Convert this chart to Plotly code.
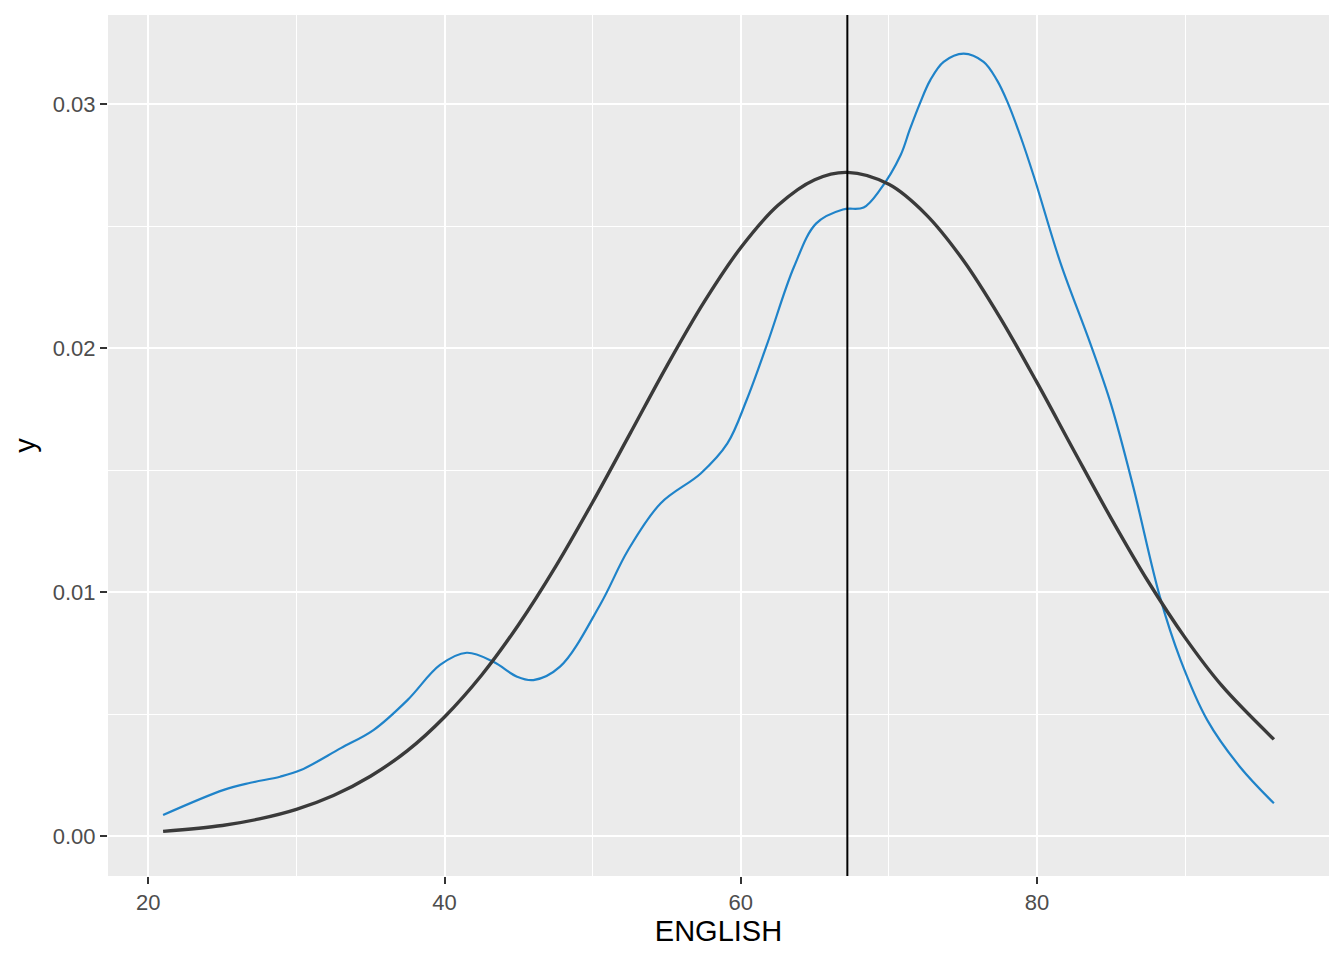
import plotly.graph_objects as go

# Kernel density of ENGLISH scores
density_x = [21.0, 25.1, 26.9, 28.9, 30.3, 33.0, 35.2, 37.5, 39.7, 41.5, 43.3, 44.9, 46.0,
             47.8, 50.5, 52.4, 54.6, 57.3, 59.1, 60.4, 61.8, 63.6, 65.1, 66.9, 68.3, 69.4,
             70.8, 71.4, 72.1, 72.8, 73.7, 75.05, 76.4, 77.3, 78.0, 78.9, 79.8, 81.6, 83.6,
             85.0, 86.5, 88.3, 89.7, 91.5, 93.7, 96.0]
density_y = [0.00086, 0.00189, 0.00218, 0.00243, 0.0027, 0.0036, 0.00434, 0.00557, 0.00701,
             0.00751, 0.00714, 0.00653, 0.00639, 0.00694, 0.00947, 0.01172, 0.01364, 0.01486,
             0.01609, 0.01787, 0.02019, 0.02333, 0.02511, 0.02568, 0.02576, 0.02648, 0.02791,
             0.02893, 0.03003, 0.03098, 0.03173, 0.03207, 0.03173, 0.03098, 0.03010, 0.02866,
             0.02702, 0.02347, 0.02019, 0.01770, 0.01432, 0.00981, 0.00721, 0.00475, 0.00284,
             0.00134]

# Normal reference curve
normal_x = [21.0, 25.0, 27.5, 30.0, 32.5, 35.0, 37.5, 40.0, 42.5, 45.0, 47.5, 50.0, 52.5,
            55.0, 57.5, 60.0, 62.5, 65.0, 67.2, 70.0, 72.5, 75.0, 77.5, 80.0, 82.5, 85.0,
            87.5, 90.0, 92.5, 96.0]
normal_y = [0.00019, 0.00043, 0.00070, 0.00109, 0.00166, 0.00245, 0.00350, 0.00488, 0.00659,
            0.00866, 0.01104, 0.01368, 0.01646, 0.01925, 0.02186, 0.02411, 0.02584, 0.02690,
            0.02720, 0.02671, 0.02548, 0.02362, 0.02126, 0.01859, 0.01579, 0.01303, 0.01044,
            0.00813, 0.00615, 0.00396]

mean_english = 67.2

x_tick_vals = [20, 40, 60, 80]
x_tick_text = ["20", "40", "60", "80"]
y_tick_vals = [0.00, 0.01, 0.02, 0.03]
y_tick_text = ["0.00", "0.01", "0.02", "0.03"]

fig = go.Figure()
fig.add_trace(go.Scatter(x=density_x, y=density_y, mode="lines",
                         line=dict(color="#1F83C9", width=2.2, shape="spline", smoothing=1.0),
                         showlegend=False, hoverinfo="skip"))
fig.add_trace(go.Scatter(x=normal_x, y=normal_y, mode="lines",
                         line=dict(color="#3A3A3A", width=3.4, shape="spline", smoothing=1.0),
                         showlegend=False, hoverinfo="skip"))
fig.add_shape(type="line", xref="x", yref="paper", x0=mean_english, x1=mean_english,
              y0=0, y1=1, line=dict(color="black", width=2))

axis_common = dict(showline=False, zeroline=False, ticks="outside", ticklen=7, tickwidth=2,
                   tickcolor="#333333", gridcolor="white", gridwidth=2,
                   tickfont=dict(family="Liberation Sans, Arial", size=22, color="#4D4D4D"))

fig.update_layout(
    width=1336, height=952,
    margin=dict(l=100, r=15, t=7, b=84),
    paper_bgcolor="white", plot_bgcolor="#EBEBEB",
    font=dict(family="Liberation Sans, Arial"),
    xaxis=dict(range=[17.28, 99.72], tickvals=x_tick_vals, ticktext=x_tick_text,
               title=dict(text="ENGLISH", font=dict(size=29, color="black"), standoff=4),
               minor=dict(tickvals=[30, 50, 70, 90], showgrid=True, gridcolor="white",
                          gridwidth=1, ticks=""),
               **axis_common),
    yaxis=dict(range=[-0.00164, 0.03365], tickvals=y_tick_vals, ticktext=y_tick_text,
               title=dict(text="y", font=dict(size=29, color="black"), standoff=8),
               minor=dict(tickvals=[0.005, 0.015, 0.025], showgrid=True, gridcolor="white",
                          gridwidth=1, ticks=""),
               **axis_common),
)

fig.write_html("out.html")
